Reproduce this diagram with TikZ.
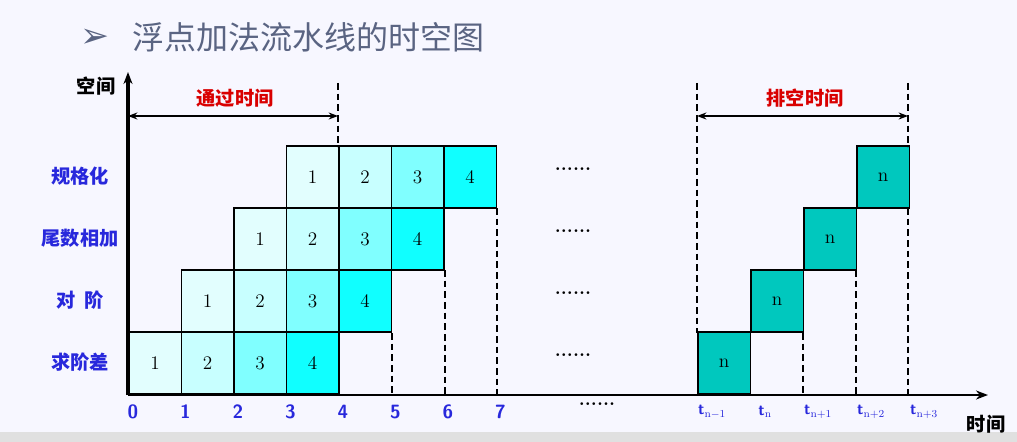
\documentclass[tikz,border=0pt]{standalone}
\usepackage{fontspec}
\newfontfamily\cjk{Noto Sans CJK SC}
\newfontfamily\symb{DejaVu Sans}
\usetikzlibrary{arrows.meta}
\definecolor{cA}{RGB}{226,254,254}
\definecolor{cB}{RGB}{200,255,255}
\definecolor{cC}{RGB}{128,255,255}
\definecolor{cD}{RGB}{16,255,255}
\definecolor{cN}{RGB}{0,200,190}
\definecolor{stageblue}{RGB}{40,40,220}
\definecolor{titlegray}{RGB}{90,100,130}
\tikzset{every picture/.style={line width=0.75pt}}
\tikzset{
  cell/.style={draw=black,line width=1.2pt,minimum width=39.4pt,minimum height=46.5pt,inner sep=0pt,anchor=south west,font=\Large},
  stage/.style={font=\cjk\bfseries\Large,text=stageblue},
  tick/.style={font=\sffamily\bfseries\Large,text=stageblue},
  guide/.style={dash pattern=on 5pt off 3pt,line width=1.6pt},
  span/.style={{Stealth[length=7pt]}-{Stealth[length=7pt]},line width=1.2pt},
  dots/.style={font=\bfseries\Large}
}
\begin{document}
\begin{tikzpicture}[x=0.75pt,y=0.75pt,yscale=-1,xscale=1]
\useasboundingbox (0,0) rectangle (1017,442);
%background
\fill[white!97!blue] (0,0) rectangle (1017,442);
\fill[black!12] (0,432) rectangle (1017,442);

%title
\node (bullet) at (95,38) {\symb\fontsize{26}{28}\selectfont\color{titlegray}➢};
\node (title) [anchor=west] at (128,37) {\cjk\fontsize{24}{28}\selectfont\color{titlegray}浮点加法流水线的时空图};

%pipeline cells
\foreach \r/\cl in {0/求阶差,1/对\ \ 阶,2/尾数相加,3/规格化} {
  \node (s\r) [stage] at (80,{362-62*\r}) {\cl};
  \foreach \k/\c in {1/cA,2/cB,3/cC,4/cD}
    \node (c\r\k) [cell,fill=\c] at ({128+52.5*(\r+\k-1)},{395-62*\r}) {\k};
  \node (n\r) [cell,fill=cN] at ({697+53*\r},{395-62*\r}) {n};
  \node (d\r) [dots] at (573,{355-62*\r}) {......};
}

%guides
\draw[guide] (338,83) -- (338,147);
\draw[guide] (392,333) -- (392,395);
\draw[guide] (445,270) -- (445,395);
\draw[guide] (497,208) -- (497,395);
\draw[guide] (697,83) -- (697,333);
\draw[guide] (803,333) -- (803,395);
\draw[guide] (856,270) -- (856,395);
\draw[guide] (908,83) -- (908,147);
\draw[guide] (908,208) -- (908,395);

%axes
\coordinate (o) at (128,395);
\coordinate (ytop) at (128,72);
\coordinate (xend) at (988,395);
\draw[line width=2.6pt,-{Stealth[length=9pt]}] (o) -- (ytop);
\draw[line width=1.5pt,-{Stealth[length=9pt]}] (o) -- (xend);
\node (ylab) [font=\cjk\bfseries\Large] at (96,86) {空间};
\node (xlab) [font=\cjk\bfseries\Large] at (986,424) {时间};

%ticks
\foreach \i in {0,...,7}
  \node (t\i) [tick] at ({133+52.5*\i},412) {\i};
\node (tdots) [dots] at (597,404) {......};
\foreach \lab [count=\j from 0] in {n-1,n,n+1,n+2,n+3}
  \node (tn\j) [font=\sffamily\bfseries\large,text=stageblue] at ({712+53*\j},412) {t$_{\mathrm{\lab}}$};

%spans
\coordinate (pa) at (128,116);
\coordinate (pb) at (338,116);
\coordinate (qa) at (697,116);
\coordinate (qb) at (908,116);
\draw[span] (pa) -- (pb);
\draw[span] (qa) -- (qb);
\node (pass) [font=\cjk\bfseries\Large,text=red!85!black] at (235,98) {通过时间};
\node (drain) [font=\cjk\bfseries\Large,text=red!85!black] at (805,98) {排空时间};
\end{tikzpicture}
\end{document}
